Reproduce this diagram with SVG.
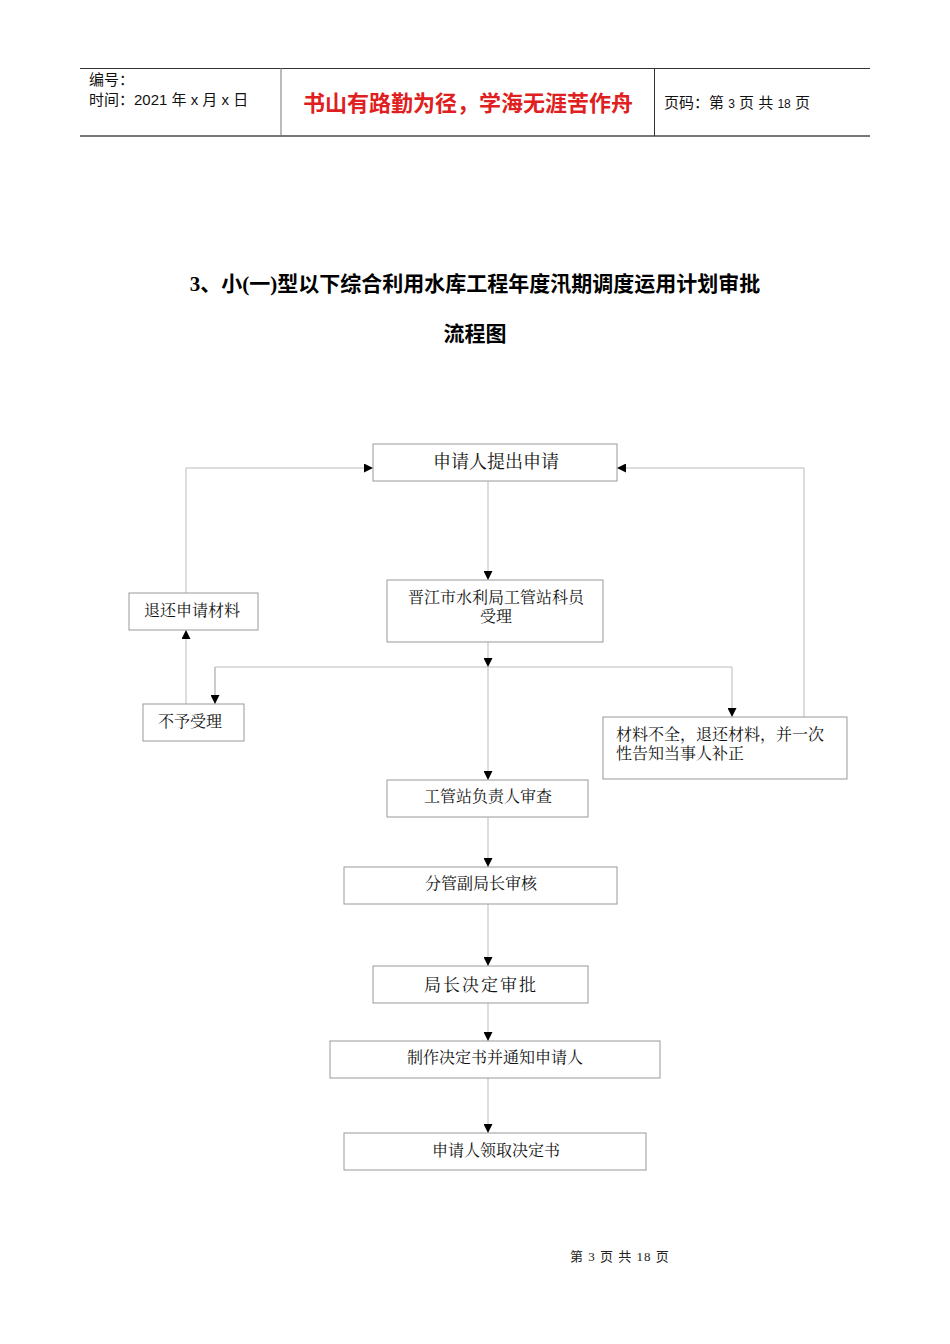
<svg xmlns="http://www.w3.org/2000/svg" width="950" height="1344" viewBox="0 0 950 1344">
<defs>
<style>
.n{fill:#fff;stroke:#999;stroke-width:1}
.t{font-family:"Liberation Serif","Noto Serif CJK SC","Noto Sans CJK SC",serif;font-size:16px;fill:#111;text-anchor:middle}
.s{text-anchor:start}
.c{fill:none;stroke:#bbb;stroke-width:1}
.h{font-family:"Liberation Sans","Noto Sans CJK SC",sans-serif;font-size:15px;fill:#111}
</style>
<marker id="a" viewBox="0 0 10 10" refX="10" refY="5" markerWidth="9" markerHeight="9" markerUnits="userSpaceOnUse" orient="auto"><path d="M0,0L10,5L0,10z" fill="#000"/></marker>
</defs>
<rect width="950" height="1344" fill="#fff"/>
<g id="header">
<line x1="80" y1="68.5" x2="870" y2="68.5" stroke="#333"/>
<line x1="80" y1="136" x2="870" y2="136" stroke="#777" stroke-width="2"/>
<line x1="281" y1="68" x2="281" y2="136" stroke="#777"/>
<line x1="654.5" y1="68" x2="654.5" y2="136" stroke="#333"/>
<text class="h" x="89" y="85">编号：</text>
<text class="h" x="89" y="105">时间：2021 年 x 月 x 日</text>
<text x="468" y="111" text-anchor="middle" font-family="'Noto Sans CJK SC',sans-serif" font-size="22" font-weight="bold" fill="#e02020">书山有路勤为径，学海无涯苦作舟</text>
<text class="h" x="664" y="108">页码：第 <tspan font-size="12">3</tspan> 页  共 <tspan font-size="12">18</tspan> 页</text>
</g>
<text x="475" y="291" text-anchor="middle" font-family="'Liberation Serif','Noto Sans CJK SC',serif" font-size="21" font-weight="bold" fill="#000">3、小(一)型以下综合利用水库工程年度汛期调度运用计划审批</text>
<text x="475" y="341" text-anchor="middle" font-family="'Liberation Serif','Noto Sans CJK SC',serif" font-size="21" font-weight="bold" fill="#000">流程图</text>
<g id="connectors">
<path class="c" d="M488,481V580" marker-end="url(#a)"/>
<path class="c" d="M488,642V667" marker-end="url(#a)"/>
<path class="c" d="M215,704V667H732V717" marker-end="url(#a)"/>
<path class="c" d="M215,667V704" marker-end="url(#a)"/>
<path class="c" d="M488,667V780" marker-end="url(#a)"/>
<path class="c" d="M186,593V468H373" marker-end="url(#a)"/>
<path class="c" d="M186,704V630" marker-end="url(#a)"/>
<path class="c" d="M804,717V468H617" marker-end="url(#a)"/>
<path class="c" d="M488,817V867" marker-end="url(#a)"/>
<path class="c" d="M488,904V966" marker-end="url(#a)"/>
<path class="c" d="M488,1003V1041" marker-end="url(#a)"/>
<path class="c" d="M488,1078V1133" marker-end="url(#a)"/>
</g>
<g id="n1"><rect class="n" x="373" y="444" width="244" height="37"/><text class="t" x="496" y="468" font-size="18" style="font-size:18px">申请人提出申请</text></g>
<g id="n2"><rect class="n" x="387" y="580" width="216" height="62"/><text class="t" x="496" y="603">晋江市水利局工管站科员</text><text class="t" x="496" y="622">受理</text></g>
<g id="n3"><rect class="n" x="129" y="593" width="129" height="37"/><text class="t" x="192" y="616">退还申请材料</text></g>
<g id="n4"><rect class="n" x="143" y="704" width="101" height="37"/><text class="t" x="190" y="727">不予受理</text></g>
<g id="n5"><rect class="n" x="603" y="717" width="244" height="62"/><text class="t s" x="616" y="740">材料不全，退还材料，并一次</text><text class="t s" x="616" y="759">性告知当事人补正</text></g>
<g id="n6"><rect class="n" x="387" y="780" width="201" height="37"/><text class="t" x="488" y="802">工管站负责人审查</text></g>
<g id="n7"><rect class="n" x="344" y="867" width="273" height="37"/><text class="t" x="481" y="889">分管副局长审核</text></g>
<g id="n8"><rect class="n" x="373" y="966" width="215" height="37"/><text class="t" x="481" y="991" style="font-size:17px;letter-spacing:2px">局长决定审批</text></g>
<g id="n9"><rect class="n" x="330" y="1041" width="330" height="37"/><text class="t" x="495" y="1063">制作决定书并通知申请人</text></g>
<g id="n10"><rect class="n" x="344" y="1133" width="302" height="37"/><text class="t" x="496" y="1156">申请人领取决定书</text></g>
<text x="620" y="1261" text-anchor="middle" font-family="'Liberation Serif','Noto Sans CJK SC',serif" font-size="13" fill="#222" letter-spacing="1">第 3 页 共 18 页</text>
</svg>
